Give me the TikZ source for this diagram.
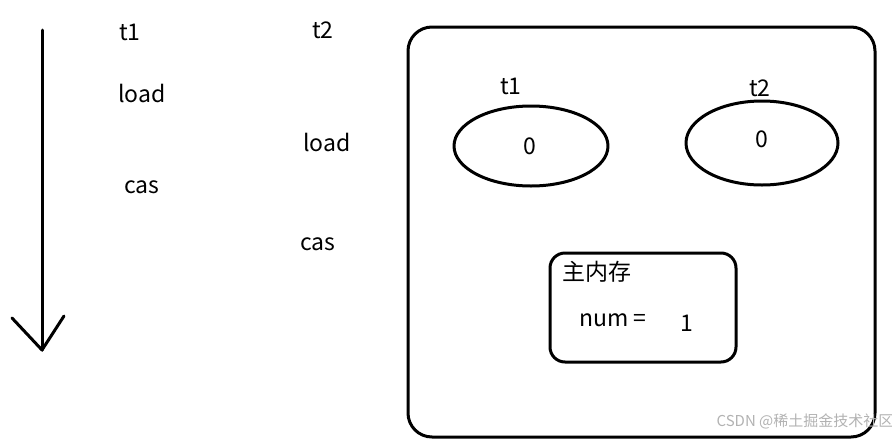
\documentclass[tikz,border=0pt]{standalone}
\usepackage{fontspec}
\setmainfont{Noto Sans CJK SC}
\usetikzlibrary{shapes.geometric}
\begin{document}
\begin{tikzpicture}[x=1pt,y=-1pt,
  lbl/.style={font=\fontsize{23}{26}\selectfont, inner sep=0pt},
  thick3/.style={line width=3pt, line cap=round, line join=round}]
\useasboundingbox (0,0) rectangle (892,445);
\coordinate (top) at (42,30);
\coordinate (tip) at (42,350);
\coordinate (lw) at (12,318);
\coordinate (rw) at (64,316);
\draw[thick3] (top) -- (tip);
\draw[thick3] (lw) -- (tip) -- (rw);
\node[lbl] (a1) at (130,32) {t1};
\node[lbl] (a2) at (323,30) {t2};
\node[lbl] (l1) at (142,93) {load};
\node[lbl] (l2) at (327,142) {load};
\node[lbl] (c1) at (142,187) {cas};
\node[lbl] (c2) at (318,244) {cas};
\draw[thick3, rounded corners=24pt] (408,27) rectangle (875,437);
\node[draw, thick3, ellipse, minimum width=154pt, minimum height=80pt] (e1) at (531,146) {};
\node[draw, thick3, ellipse, minimum width=152pt, minimum height=84pt] (e2) at (762,143) {};
\node[lbl] (t1) at (511,86) {t1};
\node[lbl] (t2) at (760,88) {t2};
\node[lbl] (z1) at (530,146) {0};
\node[lbl] (z2) at (762,139) {0};
\draw[thick3, rounded corners=15pt] (550,253) rectangle (736,362);
\node[lbl] (mm) at (597,272) {主内存};
\node[lbl] (num) at (613,320) {num =};
\node[lbl] (one) at (687,323) {1};
\node[font=\fontsize{15}{17}\selectfont, text=black!30, inner sep=0pt] (wm) at (805,421) {CSDN @稀土掘金技术社区};
\end{tikzpicture}
\end{document}
